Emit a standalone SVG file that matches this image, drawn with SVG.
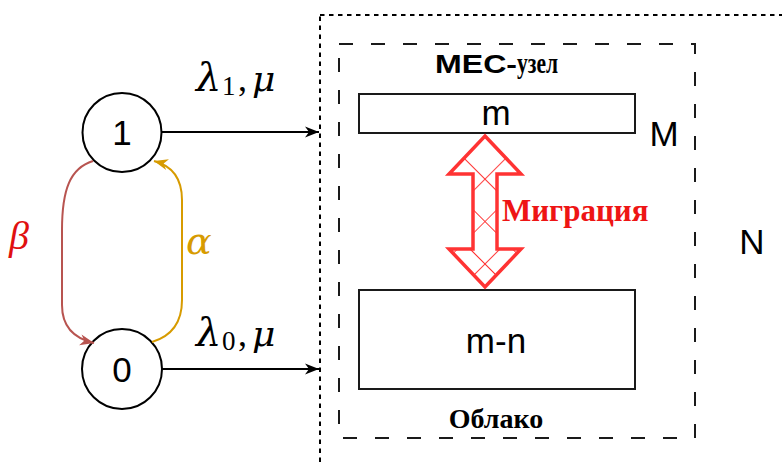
<svg xmlns="http://www.w3.org/2000/svg" width="782" height="463" viewBox="0 0 782 463">
  <style>
    .sans { font-family: "Liberation Sans", Arial, sans-serif; fill: #000; }
    .serif { font-family: "Liberation Serif", "Times New Roman", serif; }
    .node { fill: #fff; stroke: #000; stroke-width: 2; }
    .box { fill: #fff; stroke: #1a1a1a; stroke-width: 2; }
    .edge { fill: none; stroke: #000; stroke-width: 2; }
    .big { font-size: 35px; text-anchor: middle; }
    .math { font-family: "Liberation Serif", "Times New Roman", serif; fill: #000; }
    .greek { font-family: "DejaVu Serif", "Liberation Serif", serif; font-style: italic; }
  </style>
  <defs>
    <marker id="arrBlack" markerUnits="userSpaceOnUse" markerWidth="16" markerHeight="12" refX="14" refY="5.5" orient="auto" overflow="visible">
      <path d="M0,0 L14,5.5 L0,11 L4,5.5 Z" fill="#000"/>
    </marker>
    <marker id="arrRed" markerUnits="userSpaceOnUse" markerWidth="16" markerHeight="12" refX="14" refY="5.5" orient="auto" overflow="visible">
      <path d="M0,0 L14,5.5 L0,11 L4,5.5 Z" fill="#b85450"/>
    </marker>
    <marker id="arrGold" markerUnits="userSpaceOnUse" markerWidth="16" markerHeight="12" refX="14" refY="5.5" orient="auto" overflow="visible">
      <path d="M0,0 L14,5.5 L0,11 L4,5.5 Z" fill="#d79b00"/>
    </marker>
    <pattern id="hatch" patternUnits="userSpaceOnUse" width="30" height="30" patternTransform="translate(485,136) rotate(45)">
      <path d="M0,0 H30 M0,0 V30" stroke="#ff3333" stroke-width="1.8" fill="none"/>
    </pattern>
    <clipPath id="migClip">
      <polygon points="485,136 521,174 497,174 497,249 521,249 485,287 449,249 473,249 473,174 449,174"/>
    </clipPath>
  </defs>

  <!-- Container N -->
  <g id="container-N">
    <rect x="320" y="15" width="520" height="500" fill="none" stroke="#000" stroke-width="2" stroke-dasharray="4.5 4.5"/>
    <text class="sans big" x="752" y="254">N</text>
  </g>

  <!-- MEC node container M -->
  <g id="container-M">
    <rect x="339" y="44" width="356" height="394" fill="none" stroke="#1a1a1a" stroke-width="2" stroke-dasharray="14 18"/>
    <text y="73" font-weight="bold"><tspan class="sans" x="435" font-size="26" textLength="82" lengthAdjust="spacingAndGlyphs">МЕС-</tspan><tspan class="serif" x="517" font-size="29" textLength="41" lengthAdjust="spacingAndGlyphs" fill="#000">узел</tspan></text>
    <text class="sans big" x="664" y="146">M</text>
    <text class="serif" x="496" y="428" font-size="28" font-weight="bold" text-anchor="middle" fill="#000">Облако</text>
  </g>

  <g id="box-m">
    <rect class="box" x="359" y="94" width="276" height="39"/>
    <text class="sans big" x="496" y="125">m</text>
  </g>

  <g id="box-mn">
    <rect class="box" x="359" y="290" width="276" height="99"/>
    <text class="sans big" x="496" y="353">m-n</text>
  </g>

  <g id="migration">
    <polygon points="485,136 521,174 497,174 497,249 521,249 485,287 449,249 473,249 473,174 449,174" fill="#fff"/>
    <rect x="440" y="130" width="90" height="165" fill="url(#hatch)" clip-path="url(#migClip)"/>
    <polygon points="485,136 521,174 497,174 497,249 521,249 485,287 449,249 473,249 473,174 449,174" fill="none" stroke="#ff3333" stroke-width="3.5" stroke-linejoin="miter"/>
    <text class="serif" x="502" y="221" font-size="31" font-weight="bold" fill="#ee1515">Миграция</text>
  </g>

  <g id="node-1">
    <circle class="node" cx="122" cy="132.5" r="39.5"/>
    <text class="sans big" x="122" y="145">1</text>
  </g>

  <g id="node-0">
    <circle class="node" cx="122" cy="369" r="40"/>
    <text class="sans big" x="122" y="382">0</text>
  </g>

  <g id="connectors">
    <line class="edge" x1="162" y1="132" x2="319" y2="132" marker-end="url(#arrBlack)"/>
    <line class="edge" x1="162" y1="369" x2="319" y2="369" marker-end="url(#arrBlack)"/>
    <path d="M93,161 C70,168 62,190 62,230 L62,305 C62,325 72,338 94,343" fill="none" stroke="#b85450" stroke-width="2" marker-end="url(#arrRed)"/>
    <path d="M152,342 C172,336 182,322 182,300 L182,200 C182,180 173,166 154,161" fill="none" stroke="#d79b00" stroke-width="2" marker-end="url(#arrGold)"/>

    <text class="math" y="91" font-size="36"><tspan class="greek" x="196" font-size="40">λ</tspan><tspan x="222" y="95" font-size="27">1</tspan><tspan x="238" y="91">,</tspan><tspan class="greek" x="252" font-size="36">μ</tspan></text>
    <text class="math" y="346" font-size="36"><tspan class="greek" x="196" font-size="40">λ</tspan><tspan x="222" y="350" font-size="27">0</tspan><tspan x="238" y="346">,</tspan><tspan class="greek" x="252" font-size="36">μ</tspan></text>
    <text class="serif" x="9" y="249" font-size="40" font-style="italic" fill="#e01010">β</text>
    <text class="greek" x="186" y="254" font-size="38" fill="#d79b00">α</text>
  </g>
</svg>
